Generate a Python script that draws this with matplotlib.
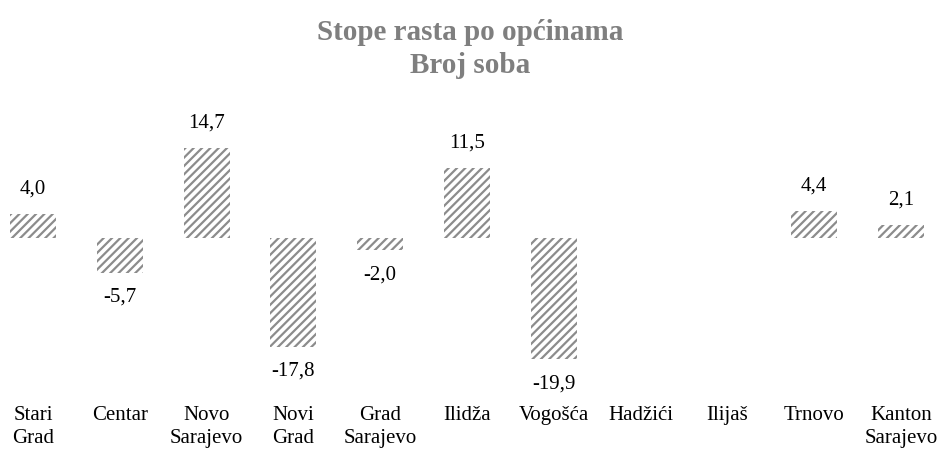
import numpy as np
import matplotlib
matplotlib.use("Agg")
import matplotlib.pyplot as plt

plt.rcParams["font.family"] = ["Liberation Serif", "DejaVu Serif"]
plt.rcParams["hatch.linewidth"] = 1.6
plt.rcParams["hatch.color"] = "#8c8c8c"

# podaci
categories = ["Stari\nGrad", "Centar", "Novo\nSarajevo", "Novi\nGrad", "Grad\nSarajevo",
              "Ilidža", "Vogošća", "Hadžići", "Ilijaš", "Trnovo", "Kanton\nSarajevo"]
values = [4.0, -5.7, 14.7, -17.8, -2.0, 11.5, -19.9, np.nan, np.nan, 4.4, 2.1]

fig = plt.figure(figsize=(9.41, 4.53), dpi=100)
ax = fig.add_axes([0, 58 / 453, 1, (395 - 90) / 453])

x = np.arange(len(categories))
bars = ax.bar(x, values, width=0.53, color="white", edgecolor="#8c8c8c",
              linewidth=0, hatch="////")

for xi, v in zip(x, values):
    if np.isnan(v):
        continue
    txt = f"{v:.1f}".replace(".", ",")
    if v >= 0:
        ax.annotate(txt, (xi, v), xytext=(0, 11), textcoords="offset points",
                    ha="center", va="bottom", fontsize=15)
    else:
        ax.annotate(txt, (xi, v), xytext=(0, -11), textcoords="offset points",
                    ha="center", va="top", fontsize=15)

ax.set_xlim(-0.38, 10.46)
ax.set_ylim(-25.74, 24.26)
ax.set_xticks(x)
ax.set_xticklabels(categories, fontsize=15, linespacing=1.3)
ax.tick_params(axis="x", length=0, pad=8)
ax.set_yticks([])
for s in ax.spines.values():
    s.set_visible(False)

fig.suptitle("Stope rasta po općinama\nBroj soba", y=0.957, fontsize=21,
             fontweight="bold", color="#7f7f7f", linespacing=1.25)

fig.savefig("out.png", dpi=100)
